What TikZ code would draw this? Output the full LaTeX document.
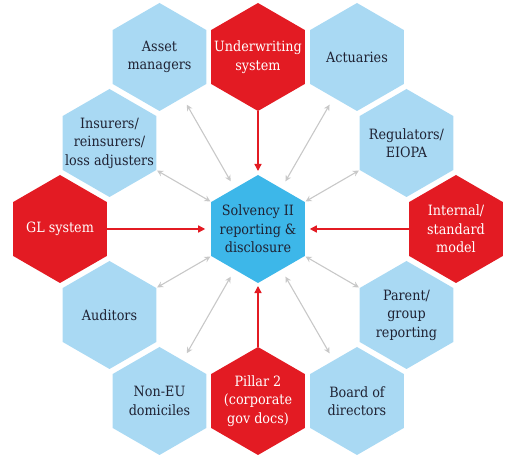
\documentclass[tikz,border=0pt]{standalone}
\usepackage{fontspec}
\setmainfont{DejaVu Serif Condensed}
\usetikzlibrary{shapes.geometric,arrows.meta}
\definecolor{lblue}{HTML}{A9D9F3}
\definecolor{hred}{HTML}{E31B23}
\definecolor{cblue}{HTML}{3DB7E9}
\definecolor{txtdark}{HTML}{1F2233}
\definecolor{agray}{HTML}{C8C8C8}
\newcommand\hexfont{\fontsize{14.2}{18.5}\selectfont}
\tikzset{
  hexbase/.style={regular polygon, regular polygon sides=6, regular polygon rotate=30,
    minimum size=108pt, inner sep=0pt, outer sep=0pt, draw=none},
  lhex/.style={hexbase, fill=lblue},
  rhex/.style={hexbase, fill=hred},
  chex/.style={hexbase, fill=cblue},
  dtxt/.style={text=txtdark, align=center, font=\hexfont, inner sep=0pt},
  wtxt/.style={text=white, align=center, font=\hexfont, inner sep=0pt},
  garrow/.style={draw=agray, line width=1.1pt,
    {Stealth[length=6pt,width=6pt]}-{Stealth[length=6pt,width=6pt]},
    shorten <=55pt, shorten >=55pt},
  rarrow/.style={draw=hred, line width=1.4pt, -{Triangle[length=7pt,width=7pt]}},
}
\begin{document}
\begin{tikzpicture}[x=1pt,y=-1pt]
\useasboundingbox (0,0) rectangle (515,462);
\node[chex, label={[dtxt]center:Solvency II\\reporting \&\\disclosure}] (sol) at (258,229) {};
\node[lhex, label={[dtxt]center:Asset\\managers}] (am) at (159.5,57) {};
\node[rhex, label={[wtxt]center:Underwriting\\system}] (uw) at (258,57) {};
\node[lhex, label={[dtxt]center:Actuaries}] (act) at (357,57) {};
\node[lhex, label={[dtxt]center:Insurers/\\reinsurers/\\loss adjusters}] (ins) at (109.5,143) {};
\node[lhex, label={[dtxt]center:Regulators/\\EIOPA}] (reg) at (406.5,143) {};
\node[rhex, label={[wtxt]center:GL system}] (gl) at (60,229) {};
\node[rhex, label={[wtxt]center:Internal/\\standard\\model}] (int) at (456,229) {};
\node[lhex, label={[dtxt]center:Auditors}] (aud) at (109.5,315) {};
\node[lhex, label={[dtxt]center:Parent/\\group\\reporting}] (par) at (406.5,315) {};
\node[lhex, label={[dtxt]center:Non-EU\\domiciles}] (neu) at (159.5,401) {};
\node[rhex, label={[wtxt]center:Pillar 2\\(corporate\\gov docs)}] (p2) at (258,401) {};
\node[lhex, label={[dtxt]center:Board of\\directors}] (bod) at (357,401) {};
% gray double arrows
\draw[garrow] (am.center) -- (sol.center);
\draw[garrow] (act.center) -- (sol.center);
\draw[garrow] (ins.center) -- (sol.center);
\draw[garrow] (reg.center) -- (sol.center);
\draw[garrow] (aud.center) -- (sol.center);
\draw[garrow] (par.center) -- (sol.center);
\draw[garrow] (neu.center) -- (sol.center);
\draw[garrow] (bod.center) -- (sol.center);
% red arrows
\draw[rarrow, shorten >=4pt] (uw.south) -- (sol.north);
\draw[rarrow, shorten >=6pt] (gl.east) -- (sol.west);
\draw[rarrow, shorten >=5pt] (int.west) -- (sol.east);
\draw[rarrow, shorten >=3pt] (p2.north) -- (sol.south);
\end{tikzpicture}
\end{document}
